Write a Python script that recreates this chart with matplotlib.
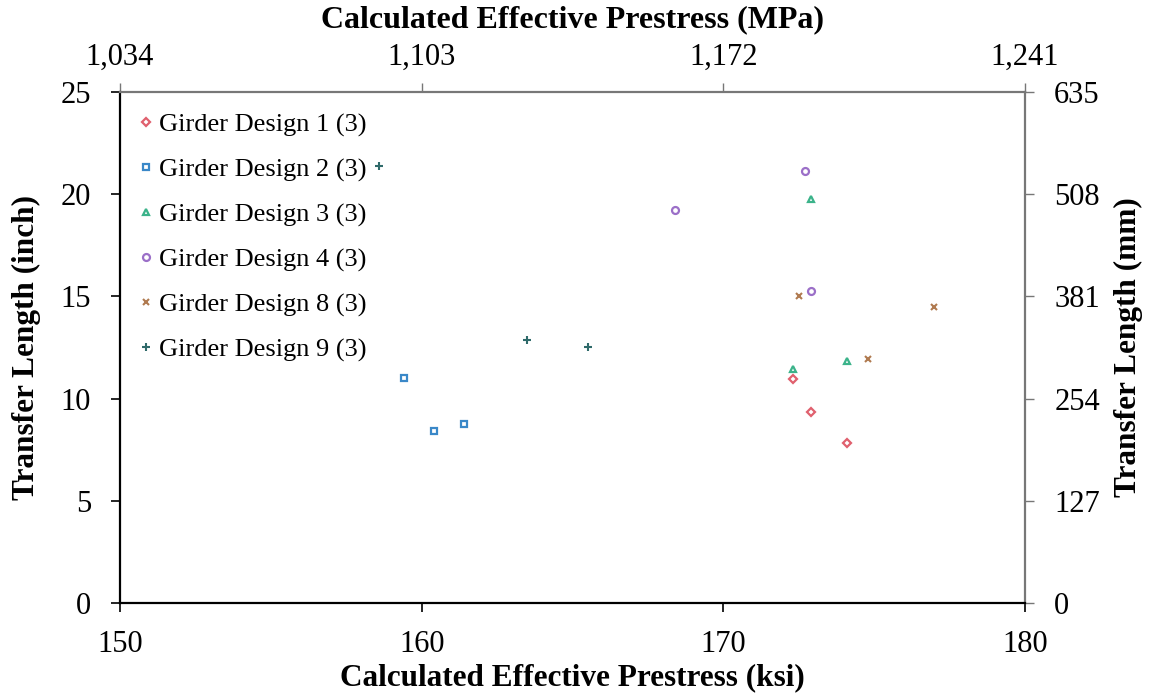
import matplotlib.pyplot as plt
import numpy as np

# ------------------------
# Data (ksi, inch)
# ------------------------
labels = ['Girder Design 1 (3)', 'Girder Design 2 (3)', 'Girder Design 3 (3)',
          'Girder Design 4 (3)', 'Girder Design 8 (3)', 'Girder Design 9 (3)']

gd1_x = [172.3, 172.9, 174.1]
gd1_y = [10.96, 9.36, 7.84]
gd2_x = [159.4, 160.4, 161.4]
gd2_y = [11.02, 8.41, 8.77]
gd3_x = [172.9, 172.3, 174.1]
gd3_y = [19.78, 11.46, 11.85]
gd4_x = [172.7, 168.4, 172.9]
gd4_y = [21.15, 19.23, 15.25]
gd8_x = [172.5, 177.0, 174.8]
gd8_y = [15.04, 14.50, 11.92]
gd9_x = [158.6, 163.5, 165.5]
gd9_y = [21.38, 12.87, 12.52]

x_ticks = [150, 160, 170, 180]
y_ticks = [0, 5, 10, 15, 20, 25]

KSI_TO_MPA = 6.894757
IN_TO_MM = 25.4

# ------------------------
# Style
# ------------------------
plt.rcParams['font.family'] = 'Liberation Serif'
plt.rcParams['font.size'] = 22

fig = plt.figure(figsize=(11.51, 6.94), dpi=100)
ax = fig.add_axes([0.1043, 0.1311, 0.7862, 0.7363])

series = [
    (gd1_x, gd1_y, 'D', '#e0606e', 4.0),
    (gd2_x, gd2_y, 's', '#3a88c8', 5.0),
    (gd3_x, gd3_y, '^', '#3bb38a', 5.0),
    (gd4_x, gd4_y, 'o', '#9b6fc8', 5.0),
    (gd8_x, gd8_y, 'x', '#b07a50', 5.0),
    (gd9_x, gd9_y, '+', '#2f6a6a', 5.5),
]

for (xs, ys, m, c, ms), lab in zip(series, labels):
    if m in ('x', '+'):
        ax.plot(xs, ys, linestyle='none', marker=m, color=c, markersize=ms,
                markeredgewidth=1.5, label=lab)
    else:
        ax.plot(xs, ys, linestyle='none', marker=m, markerfacecolor='white',
                markeredgecolor=c, markersize=ms, markeredgewidth=1.6, label=lab)

ax.set_xlim(150, 180)
ax.set_ylim(0, 25)
ax.set_xticks(x_ticks)
ax.set_yticks(y_ticks)
ax.tick_params(direction='out', length=6.5, width=1.2, labelsize=22)
ax.tick_params(axis='x', pad=13)
ax.tick_params(axis='y', pad=14.5)
ax.set_xlabel('Calculated Effective Prestress (ksi)', fontweight='bold', fontsize=22.5, labelpad=3)
ax.set_ylabel('Transfer Length (inch)', fontweight='bold', fontsize=22.5, labelpad=14)

for side in ['left', 'bottom']:
    ax.spines[side].set_linewidth(1.6)
for side in ['top', 'right']:
    ax.spines[side].set_color('#777777')
    ax.spines[side].set_linewidth(1.6)

# top axis in MPa
top = ax.secondary_xaxis('top', functions=(lambda v: v * KSI_TO_MPA, lambda v: v / KSI_TO_MPA))
top.set_xticks([t * KSI_TO_MPA for t in x_ticks])
top.set_xticklabels([f'{t * KSI_TO_MPA:,.0f}' for t in x_ticks])
top.tick_params(direction='out', length=6.5, width=1.0, colors='#777777', labelcolor='black', labelsize=22, pad=8)
top.set_xlabel('Calculated Effective Prestress (MPa)', fontweight='bold', fontsize=23, labelpad=11.5)
top.spines['top'].set_visible(False)

# right axis in mm
right = ax.secondary_yaxis('right', functions=(lambda v: v * IN_TO_MM, lambda v: v / IN_TO_MM))
right.set_yticks([t * IN_TO_MM for t in y_ticks])
right.set_yticklabels([f'{t * IN_TO_MM:.0f}' for t in y_ticks])
right.tick_params(direction='out', length=6.5, width=1.0, colors='#777777', labelcolor='black', labelsize=22, pad=14.5)
right.set_ylabel('Transfer Length (mm)', fontweight='bold', fontsize=22.5, labelpad=10)
right.spines['right'].set_visible(False)

ax.legend(loc='upper left', bbox_to_anchor=(0.0, 1.0), frameon=False,
          handlelength=0.4, handletextpad=0.3, labelspacing=0.8,
          fontsize=19, borderaxespad=0.4, borderpad=0.38)

plt.savefig('out.png', dpi=100)
